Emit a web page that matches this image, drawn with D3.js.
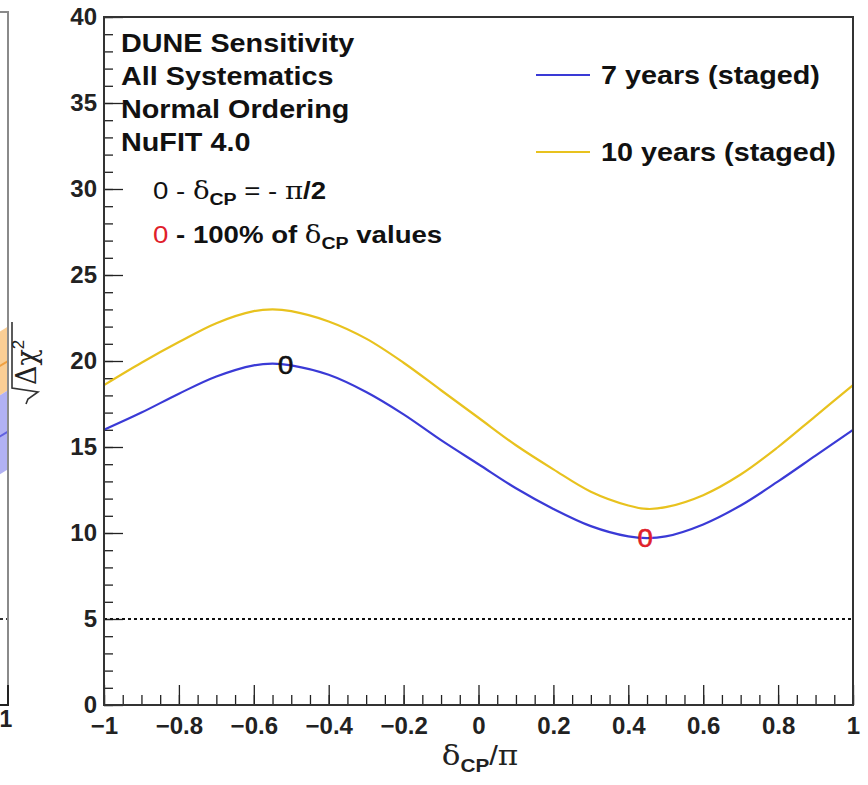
<!DOCTYPE html>
<html><head><meta charset="utf-8">
<script src="https://cdn.jsdelivr.net/npm/d3@7"></script>
<style>body{margin:0;background:#fff;} svg{display:block;}</style>
</head><body>
<script>
// ---------- data ----------
const deltaCP = [-1,-0.9,-0.8,-0.7,-0.6,-0.55,-0.5,-0.4,-0.3,-0.2,-0.1,0,0.1,0.2,0.3,0.4,0.45,0.5,0.6,0.7,0.8,0.9,1];
const sens7yr  = [16.0,17.0,18.1,19.1,19.75,19.85,19.75,19.2,18.2,16.9,15.4,14.0,12.6,11.4,10.4,9.8,9.7,9.8,10.5,11.6,13.0,14.5,16.0];
const sens10yr = [18.6,19.9,21.1,22.2,22.9,23.0,22.9,22.3,21.3,19.9,18.3,16.7,15.1,13.7,12.4,11.6,11.4,11.5,12.2,13.4,15.0,16.8,18.6];
const seriesNames = ["7 years (staged)", "10 years (staged)"];
const seriesColors = ["#3a3ad6", "#e8c21e"];
const yMajorTicks = [0,5,10,15,20,25,30,35,40];
const xMajorTicks = [-1,-0.8,-0.6,-0.4,-0.2,0,0.2,0.4,0.6,0.8,1];
const xTickLabels = ["\u22121","\u22120.8","\u22120.6","\u22120.4","\u22120.2","0","0.2","0.4","0.6","0.8","1"];
const threshold = 5;
const markerPiHalf = [-0.515, 19.75]; // delta_CP = -pi/2 marker on 7-year curve
const marker100    = [0.445, 9.7];    // 100% of delta_CP values
const infoLines = ["DUNE Sensitivity","All Systematics","Normal Ordering","NuFIT 4.0"];
// neighbouring panel edge (cropped)
const nbDelta = [0.97, 1.0];
const nbOrangeLow = [17.9, 18.3], nbOrangeHigh = [21.6, 22.0], nbOrangeMid = [19.6, 20.0];
const nbBlueLow = [13.3, 13.7],  nbBlueHigh = [17.9, 18.3],  nbBlueMid = [15.5, 15.9];

// ---------- layout ----------
const W = 868, H = 785;
const L = 104, R = 853, T = 17, B = 705;
const SX = 1.15; // horizontal text stretch of the picture

const svg = d3.select("body").append("svg").attr("width", W).attr("height", H)
  .style("font-family", "'Liberation Sans', Arial, Helvetica, sans-serif");

const x = d3.scaleLinear().domain([-1, 1]).range([L, R]);
const y = d3.scaleLinear().domain([0, 40]).range([B, T]);

// ---------- neighbouring panel remnant ----------
const xn = d3.scaleLinear().domain([-1, 1]).range([8 - (R - L), 8]);
const nb = svg.append("g");
nb.append("clipPath").attr("id","nbclip").append("rect").attr("x",0).attr("y",0).attr("width",8).attr("height",H);
const nbg = nb.append("g").attr("clip-path","url(#nbclip)");
const bandArea = (lo, hi) => d3.area().x((d,i)=>xn(nbDelta[i])).y0((d,i)=>y(lo[i])).y1((d,i)=>y(hi[i]))(nbDelta);
const nbLine = (v) => d3.line().x((d,i)=>xn(nbDelta[i])).y((d,i)=>y(v[i]))(nbDelta);
nbg.append("path").attr("d", bandArea(nbOrangeLow, nbOrangeHigh)).attr("fill", "#f9c98a").attr("opacity",0.9);
nbg.append("path").attr("d", bandArea(nbBlueLow, nbBlueHigh)).attr("fill", "#a9a9f2").attr("opacity",0.9);
nbg.append("path").attr("d", nbLine(nbOrangeMid)).attr("stroke","#f0a040").attr("stroke-width",2).attr("fill","none");
nbg.append("path").attr("d", nbLine(nbBlueMid)).attr("stroke","#6060e0").attr("stroke-width",2).attr("fill","none");
nbg.append("line").attr("x1",0).attr("x2",8).attr("y1",y(threshold)).attr("y2",y(threshold))
  .attr("stroke","#333").attr("stroke-width",2).attr("stroke-dasharray","3,3");
nb.append("path").attr("d", `M0,12 H8 V${B}`).attr("fill","none").attr("stroke","#8a8a8a").attr("stroke-width",2);
nb.append("path").attr("d", `M0,${B} H8 V${B-20}`).attr("fill","none").attr("stroke","#222").attr("stroke-width",2);
nb.append("text").attr("transform",`translate(6,${B+22})`).attr("text-anchor","middle")
  .attr("font-weight","bold").attr("font-size",23).attr("fill","#222").text("1");

// ---------- axes ----------
const yMinor = d3.range(0, 41, 1);
const xMinor = d3.range(-1, 1.0001, 0.05);
const tickFont = 24;

svg.append("g").attr("transform",`translate(${L},0)`)
  .call(d3.axisLeft(y).tickValues(yMinor).tickSize(-9).tickFormat(""))
  .call(g=>g.select(".domain").remove())
  .call(g=>g.selectAll("line").attr("stroke","#222").attr("stroke-width",1.3));
svg.append("g").attr("transform",`translate(${L},0)`)
  .call(d3.axisLeft(y).tickValues(yMajorTicks).tickSize(-19).tickPadding(7).tickFormat(d3.format("d")))
  .call(g=>g.select(".domain").remove())
  .call(g=>g.selectAll("line").attr("stroke","#222").attr("stroke-width",1.3))
  .call(g=>g.selectAll("text").attr("font-size",tickFont).attr("font-weight","bold").attr("fill","#222")
        .attr("font-family","'Liberation Sans', Arial, sans-serif"));

svg.append("g").attr("transform",`translate(0,${B})`)
  .call(d3.axisBottom(x).tickValues(xMinor).tickSize(-10).tickFormat(""))
  .call(g=>g.select(".domain").remove())
  .call(g=>g.selectAll("line").attr("stroke","#222").attr("stroke-width",1.3));
svg.append("g").attr("transform",`translate(0,${B})`)
  .call(d3.axisBottom(x).tickValues(xMajorTicks).tickSize(-20).tickPadding(12)
        .tickFormat((d,i)=>xTickLabels[i]))
  .call(g=>g.select(".domain").remove())
  .call(g=>g.selectAll("line").attr("stroke","#222").attr("stroke-width",1.3))
  .call(g=>g.selectAll("text").attr("font-size",tickFont).attr("font-weight","bold").attr("fill","#222")
        .attr("font-family","'Liberation Sans', Arial, sans-serif"));

// ---------- threshold ----------
svg.append("line").attr("x1",x(-1)).attr("x2",x(1)).attr("y1",y(threshold)).attr("y2",y(threshold))
  .attr("stroke","#111").attr("stroke-width",2).attr("stroke-dasharray","3,3");

// ---------- curves ----------
const series = [sens7yr, sens10yr];
series.forEach((vals, k) => {
  const line = d3.line().x((d,i)=>x(deltaCP[i])).y(d=>y(d)).curve(d3.curveCatmullRom.alpha(0.5));
  svg.append("path").datum(vals).attr("d", line).attr("fill","none")
    .attr("stroke", seriesColors[k]).attr("stroke-width", 2.2);
});

// frame
svg.append("rect").attr("x",L).attr("y",T).attr("width",R-L).attr("height",B-T)
  .attr("fill","none").attr("stroke","#333").attr("stroke-width",2);

// ---------- markers ----------
function marker(pt, color){
  svg.append("text").attr("transform",`translate(${x(pt[0])},${y(pt[1])+9}) scale(1.1,1)`)
    .attr("text-anchor","middle").attr("font-size",25).attr("fill",color)
    .attr("stroke",color).attr("stroke-width",0.6).text("0");
}
marker(markerPiHalf, "#111");
marker(marker100, "#e0202a");

// ---------- info text ----------
infoLines.forEach((s,i)=>{
  svg.append("text").attr("transform",`translate(121,${52+i*33}) scale(${SX},1)`)
    .attr("font-size",25).attr("font-weight","bold").attr("fill","#111").text(s);
});
const l1 = svg.append("text").attr("transform",`translate(153,199) scale(${SX},1)`)
  .attr("font-size",24).attr("fill","#111");
l1.append("tspan").text("0 - ").attr("font-weight","normal");
l1.append("tspan").text("\u03B4").attr("font-family","'DejaVu Serif', serif").attr("font-size",24);
l1.append("tspan").text("CP").attr("font-size",17).attr("font-weight","bold").attr("dy",6);
l1.append("tspan").text(" = - ").attr("dy",-6);
l1.append("tspan").text("\u03C0").attr("font-family","'DejaVu Serif', serif");
l1.append("tspan").text("/2").attr("font-weight","bold");

const l2 = svg.append("text").attr("transform",`translate(153,243) scale(${SX},1)`)
  .attr("font-size",24).attr("fill","#111");
l2.append("tspan").text("0").attr("fill","#e0202a");
l2.append("tspan").text(" - 100% of  ").attr("font-weight","bold");
l2.append("tspan").text("\u03B4").attr("font-family","'DejaVu Serif', serif");
l2.append("tspan").text("CP").attr("font-size",17).attr("font-weight","bold").attr("dy",6);
l2.append("tspan").text(" values").attr("font-weight","bold").attr("dy",-6);

// ---------- legend ----------
const legY = [75, 152];
seriesNames.forEach((s,k)=>{
  svg.append("line").attr("x1",536).attr("x2",590).attr("y1",legY[k]).attr("y2",legY[k])
    .attr("stroke",seriesColors[k]).attr("stroke-width",2.2);
  svg.append("text").attr("transform",`translate(601,${legY[k]+9}) scale(${SX},1)`)
    .attr("font-size",25).attr("font-weight","bold").attr("fill","#111").text(s);
});

// ---------- axis titles ----------
const xt = svg.append("text").attr("transform",`translate(480,765) scale(${SX},1)`).attr("text-anchor","middle")
  .attr("font-size",27).attr("fill","#222");
xt.append("tspan").text("\u03B4").attr("font-family","'DejaVu Serif', serif");
xt.append("tspan").text("CP").attr("font-size",18).attr("font-weight","bold").attr("dy",7);
xt.append("tspan").text("/").attr("dy",-7);
xt.append("tspan").text("\u03C0").attr("font-family","'DejaVu Serif', serif");

const yt = svg.append("g").attr("transform","translate(36,402) rotate(-90)");
yt.append("path").attr("d","M-2,-10 L3,-8 L10,2 L14,-24 L80,-24").attr("fill","none")
  .attr("stroke","#333").attr("stroke-width",1.6);
const ytt = yt.append("text").attr("x",17).attr("y",0).attr("font-size",27).attr("fill","#222");
ytt.append("tspan").text("\u0394\u03C7").attr("font-family","'DejaVu Serif', serif");
ytt.append("tspan").text("2").attr("font-size",17).attr("dy",-12).attr("font-family","'Liberation Sans', Arial, sans-serif");
</script>
</body></html>
